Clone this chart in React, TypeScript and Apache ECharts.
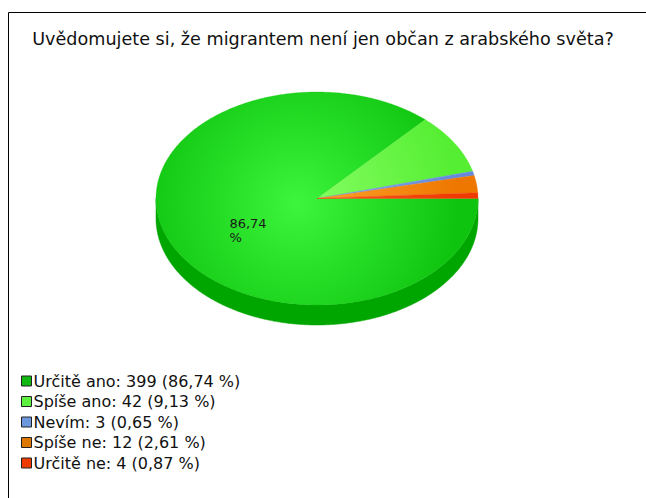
import React, { useEffect, useRef } from 'react';
import * as echarts from 'echarts';

const titleText = 'Uvědomujete si, že migrantem není jen občan z arabského světa?';
const categories = ['Určitě ano', 'Spíše ano', 'Nevím', 'Spíše ne', 'Určitě ne'];
const counts = [399, 42, 3, 12, 4];

const topInner = ['#3cf53c', '#8aff66', '#8fb0f0', '#ffa733', '#ff5a22'];
const topOuter = ['#0fc40f', '#55ee33', '#6688dd', '#ee7700', '#ee3a00'];
const sideColors = ['#00a600', '#3fcc22', '#5577cc', '#cc6600', '#cc2a00'];
const legendColors = ['#12b812', '#5ef03e', '#6d98dd', '#dd7700', '#ee3a00'];

const FONT = '"DejaVu Sans", Verdana, sans-serif';

export default function App() {
  const ref = useRef<HTMLDivElement>(null);
  useEffect(() => {
    document.body.style.margin = '0';
    const chart = echarts.init(ref.current!, null, { renderer: 'svg' });
    const total = counts.reduce((s, v) => s + v, 0);
    const cum: number[] = [];
    let acc = 0;
    counts.forEach((v) => { cum.push(acc); acc += v; });
    const pct = (v: number) => ((v / total) * 100).toFixed(2).replace('.', ',');

    const CX = 317, CY = 198.5, A = 161, B = 106.5, DEPTH = 20;
    const ang = (v: number) => (v / total) * Math.PI * 2;
    const arc = (t1: number, t2: number, dy: number) => {
      const n = Math.max(2, Math.ceil((t2 - t1) / (Math.PI / 360)));
      const pts: number[][] = [];
      for (let k = 0; k <= n; k++) {
        const t = t1 + ((t2 - t1) * k) / n;
        pts.push([CX + A * Math.cos(t), CY + dy + B * Math.sin(t)]);
      }
      return pts;
    };

    const pieData = counts.map((v, i) => ({ name: categories[i], value: [v, cum[i]] }));
    const legendNames = categories.map((c, i) => `${c}: ${counts[i]} (${pct(counts[i])} %)`);

    const sideSeries = {
      type: 'custom',
      coordinateSystem: 'none',
      z: 1,
      silent: true,
      data: pieData,
      renderItem: (params: any, api: any) => {
        const i = params.dataIndex;
        const t1 = ang(api.value(1));
        const t2 = t1 + ang(api.value(0));
        const s = Math.max(t1, 0);
        const e = Math.min(t2, Math.PI);
        if (e <= s) return { type: 'group', children: [] };
        const top = arc(s, e, 0);
        const bottom = arc(s, e, DEPTH).reverse();
        return {
          type: 'polygon',
          shape: { points: top.concat(bottom) },
          style: {
            fill: sideColors[i],
            stroke: sideColors[i],
            lineWidth: 0.5,
          },
        };
      },
    };

    const topSeries = {
      type: 'custom',
      coordinateSystem: 'none',
      z: 2,
      silent: true,
      data: pieData,
      renderItem: (params: any, api: any) => {
        const i = params.dataIndex;
        const v = api.value(0);
        const t1 = ang(api.value(1));
        const t2 = t1 + ang(v);
        const pts = [[CX, CY]].concat(arc(t1, t2, 0));
        const children: any[] = [
          {
            type: 'polygon',
            shape: { points: pts },
            style: {
              fill: new echarts.graphic.RadialGradient(CX - 20, CY + 5, A, [
                { offset: 0, color: topInner[i] },
                { offset: 1, color: topOuter[i] },
              ], true),
              stroke: topOuter[i],
              lineWidth: 0.3,
            },
          },
        ];
        if (v / total > 0.5) {
          const tm = (t1 + t2) / 2;
          const lx = CX + A * 0.5 * Math.cos(tm);
          const ly = CY + B * 0.5 * Math.sin(tm);
          children.push({
            type: 'text',
            x: lx - 14,
            y: ly - 4,
            style: {
              text: pct(v) + '\n%',
              fill: '#1a1a1a',
              font: '13px ' + FONT,
              lineHeight: 14,
              align: 'left',
              verticalAlign: 'top',
            },
          });
        }
        return { type: 'group', children };
      },
    };

    const legendSeries = legendNames.map((n, i) => ({
      type: 'custom',
      name: n,
      coordinateSystem: 'none',
      data: [],
      itemStyle: { color: legendColors[i] },
      renderItem: () => ({ type: 'group', children: [] }),
    }));

    chart.setOption({
      animation: false,
      backgroundColor: '#ffffff',
      title: {
        text: titleText,
        left: 'center',
        top: 25,
        textStyle: {
          fontFamily: FONT,
          fontSize: 17.6,
          fontWeight: 'normal',
          color: '#111',
        },
      },
      legend: {
        orient: 'vertical',
        left: 16,
        top: 368,
        itemWidth: 10,
        itemHeight: 10,
        itemGap: 4.5,
        icon: 'rect',
        selectedMode: false,
        data: legendNames.map((n, i) => ({
          name: n,
          itemStyle: { color: legendColors[i], borderColor: '#222', borderWidth: 1 },
        })),
        textStyle: {
          fontFamily: FONT,
          fontSize: 16,
          color: '#111',
          padding: [0, 0, 0, -3],
        },
      },
      graphic: [
        {
          type: 'rect',
          silent: true,
          shape: { x: 8.5, y: 12.5, width: 700, height: 600 },
          style: { fill: 'none', stroke: '#000', lineWidth: 1 },
        },
      ],
      series: [sideSeries, topSeries, ...legendSeries],
    });
    return () => chart.dispose();
  }, []);
  return <div ref={ref} style={{ width: 646, height: 498 }} />;
}
